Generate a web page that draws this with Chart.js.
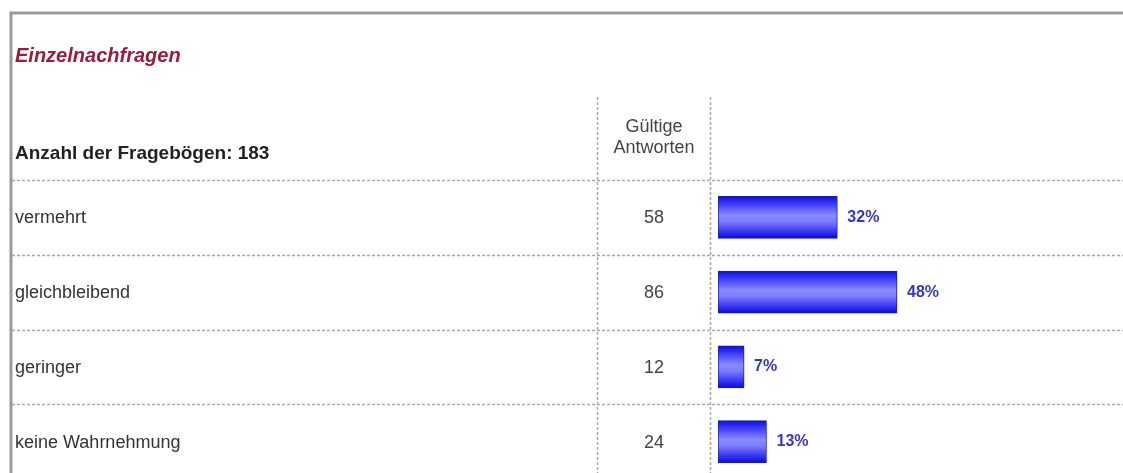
<!DOCTYPE html>
<html>
<head>
<meta charset="utf-8">
<script src="https://cdn.jsdelivr.net/npm/chart.js@4.4.1/dist/chart.umd.min.js"></script>
<style>
  html, body { margin: 0; padding: 0; background: #fff; overflow: hidden; }
  #wrap { position: relative; width: 1123px; height: 500px; }
</style>
</head>
<body>
<div id="wrap"><canvas id="grafico"></canvas></div>
<script>
// datos
const titulo = 'Einzelnachfragen';
const cabecera = 'Anzahl der Fragebögen: 183';
const cabeceraColumna = ['Gültige', 'Antworten'];
const categorias = ['vermehrt', 'gleichbleibend', 'geringer', 'keine Wahrnehmung'];
const respuestas = [58, 86, 12, 24];
const porcentajes = [32, 48, 7, 13];

const FUENTE = '"Liberation Sans", Arial, sans-serif';
const grisLinea = '#a9a9a9';

// tabla alrededor del grafico
const tablaPlugin = {
    id: 'tabla',
    beforeDraw(chart) {
        const c = chart.ctx;
        const y = chart.scales.y;
        const w = chart.width;
        const paso = y.getPixelForValue(1) - y.getPixelForValue(0);
        const limites = [];
        for (let i = 0; i < categorias.length; i++) limites.push(y.getPixelForValue(i) - paso / 2);

        c.save();
        // lineas punteadas
        c.strokeStyle = grisLinea;
        c.lineWidth = 1.5;
        c.setLineDash([3, 2]);
        limites.forEach(ly => {
            c.beginPath();
            c.moveTo(12, Math.round(ly) + 0.5);
            c.lineTo(w, Math.round(ly) + 0.5);
            c.stroke();
        });
        [597, 710].forEach(x => {
            c.beginPath();
            c.moveTo(x + 0.5, 97);
            c.lineTo(x + 0.5, chart.height);
            c.stroke();
        });
        c.setLineDash([]);

        // marco
        c.strokeStyle = '#9a9a9a';
        c.lineWidth = 3;
        c.beginPath();
        c.moveTo(w, 13);
        c.lineTo(11, 13);
        c.lineTo(11, chart.height);
        c.stroke();

        // textos
        c.textAlign = 'left';
        c.textBaseline = 'alphabetic';
        c.fillStyle = '#9b1b3a';
        c.font = 'italic bold 20px ' + FUENTE;
        c.fillText(titulo, 15, 62);

        c.fillStyle = '#222';
        c.font = 'bold 19px ' + FUENTE;
        c.fillText(cabecera, 15, 159);

        c.fillStyle = '#444';
        c.font = '18px ' + FUENTE;
        c.textAlign = 'center';
        c.textBaseline = 'middle';
        c.fillText(cabeceraColumna[0], 654, 127);
        c.fillText(cabeceraColumna[1], 654, 148);

        categorias.forEach((cat, i) => {
            const cy = y.getPixelForValue(i);
            c.fillStyle = '#333';
            c.textAlign = 'left';
            c.fillText(cat, 15, cy + 1);
            c.fillStyle = '#444';
            c.textAlign = 'center';
            c.fillText(String(respuestas[i]), 654, cy + 1);
        });
        c.restore();
    },
    afterDatasetsDraw(chart) {
        const c = chart.ctx;
        const meta = chart.getDatasetMeta(0);
        c.save();
        c.fillStyle = '#3636c8';
        c.font = 'bold 16px ' + FUENTE;
        c.textAlign = 'left';
        c.textBaseline = 'middle';
        meta.data.forEach((bar, i) => {
            c.fillText(porcentajes[i] + '%', bar.x + 10, bar.y);
        });
        c.restore();
    }
};

const ctx = document.getElementById('grafico');

new Chart(ctx, {
    type: 'bar',
    data: {
        labels: categorias,
        datasets: [{
            data: porcentajes,
            backgroundColor: (cx) => {
                const ch = cx.chart;
                const sy = ch.scales.y;
                if (!sy || cx.dataIndex === undefined) return '#5050ff';
                const cy = sy.getPixelForValue(cx.dataIndex);
                if (!isFinite(cy)) return '#5050ff';
                const g = ch.ctx.createLinearGradient(0, cy - 21, 0, cy + 21);
                g.addColorStop(0, '#0a0aee');
                g.addColorStop(0.45, '#8a8aff');
                g.addColorStop(0.6, '#7c7cff');
                g.addColorStop(1, '#0808e6');
                return g;
            },
            borderColor: '#1a1ab0',
            borderWidth: 1,
            borderSkipped: false,
            barThickness: 42
        }]
    },
    options: {
        indexAxis: 'y',
        responsive: true,
        maintainAspectRatio: false,
        animation: false,
        layout: { padding: { left: 718, right: 32, top: 180, bottom: 21 } },
        plugins: {
            legend: { display: false },
            tooltip: { enabled: false }
        },
        scales: {
            x: { display: false, min: 0, max: 100 },
            y: { display: false }
        }
    },
    plugins: [tablaPlugin]
});
</script>
</body>
</html>
